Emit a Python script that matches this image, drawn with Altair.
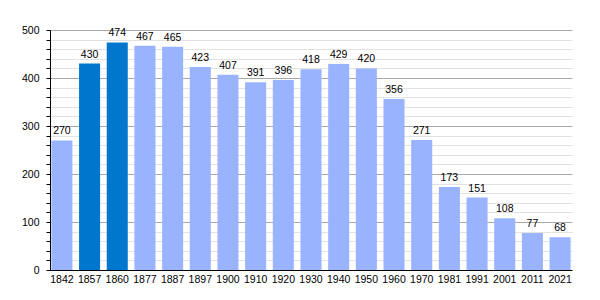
import altair as alt
import pandas as pd

years = ["1842", "1857", "1860", "1877", "1887", "1897", "1900", "1910", "1920", "1930",
         "1940", "1950", "1960", "1970", "1981", "1991", "2001", "2011", "2021"]
population = [270, 430, 474, 467, 465, 423, 407, 391, 396, 418,
              429, 420, 356, 271, 173, 151, 108, 77, 68]
highlight_years = ["1857", "1860"]

df = pd.DataFrame({"year": years, "pop": population})
df["group"] = ["highlight" if y in highlight_years else "normal" for y in years]

FONT = "Liberation Sans"

x = alt.X(
    "year:N",
    sort=None,
    scale=alt.Scale(paddingInner=0.24, paddingOuter=0.05),
    axis=alt.Axis(
        title=None, labelAngle=0, ticks=False, domainColor="black", domainWidth=1,
        labelFontSize=10.5, labelColor="#000000", labelPadding=4, labelFont=FONT,
    ),
)
y = alt.Y(
    "pop:Q",
    scale=alt.Scale(domain=[0, 500], nice=False),
    axis=alt.Axis(
        title=None,
        values=list(range(0, 501, 20)),
        tickCount=40,
        labelOverlap=False,
        labelExpr="datum.value % 100 === 0 ? datum.label : ''",
        grid=True,
        gridColor={"condition": {"test": "datum.value % 100 === 0", "value": "#a8a8a8"},
                   "value": "#e2e2e2"},
        gridWidth=1,
        tickSize=4, tickColor="#000000", domainColor="#000000",
        labelFontSize=10.5, labelColor="#000000", labelPadding=7, labelFont=FONT,
    ),
)

bars = alt.Chart(df).mark_bar().encode(
    x=x,
    y=y,
    color=alt.Color("group:N", scale=alt.Scale(domain=["normal", "highlight"],
                                               range=["#99b3ff", "#0077cc"]), legend=None),
)
labels = alt.Chart(df).mark_text(baseline="bottom", dy=-4, fontSize=10.5, font=FONT,
                                 color="#000000").encode(
    x=alt.X("year:N", sort=None),
    y=alt.Y("pop:Q"),
    text=alt.Text("pop:Q"),
)

chart = (bars + labels).properties(
    width=522, height=240,
    autosize=alt.AutoSizeParams(type="none"),
    padding={"left": 50, "top": 30, "right": 28, "bottom": 30},
).configure_view(stroke=None)

chart.save("out.html", embed_options={"renderer": "svg", "actions": False})
